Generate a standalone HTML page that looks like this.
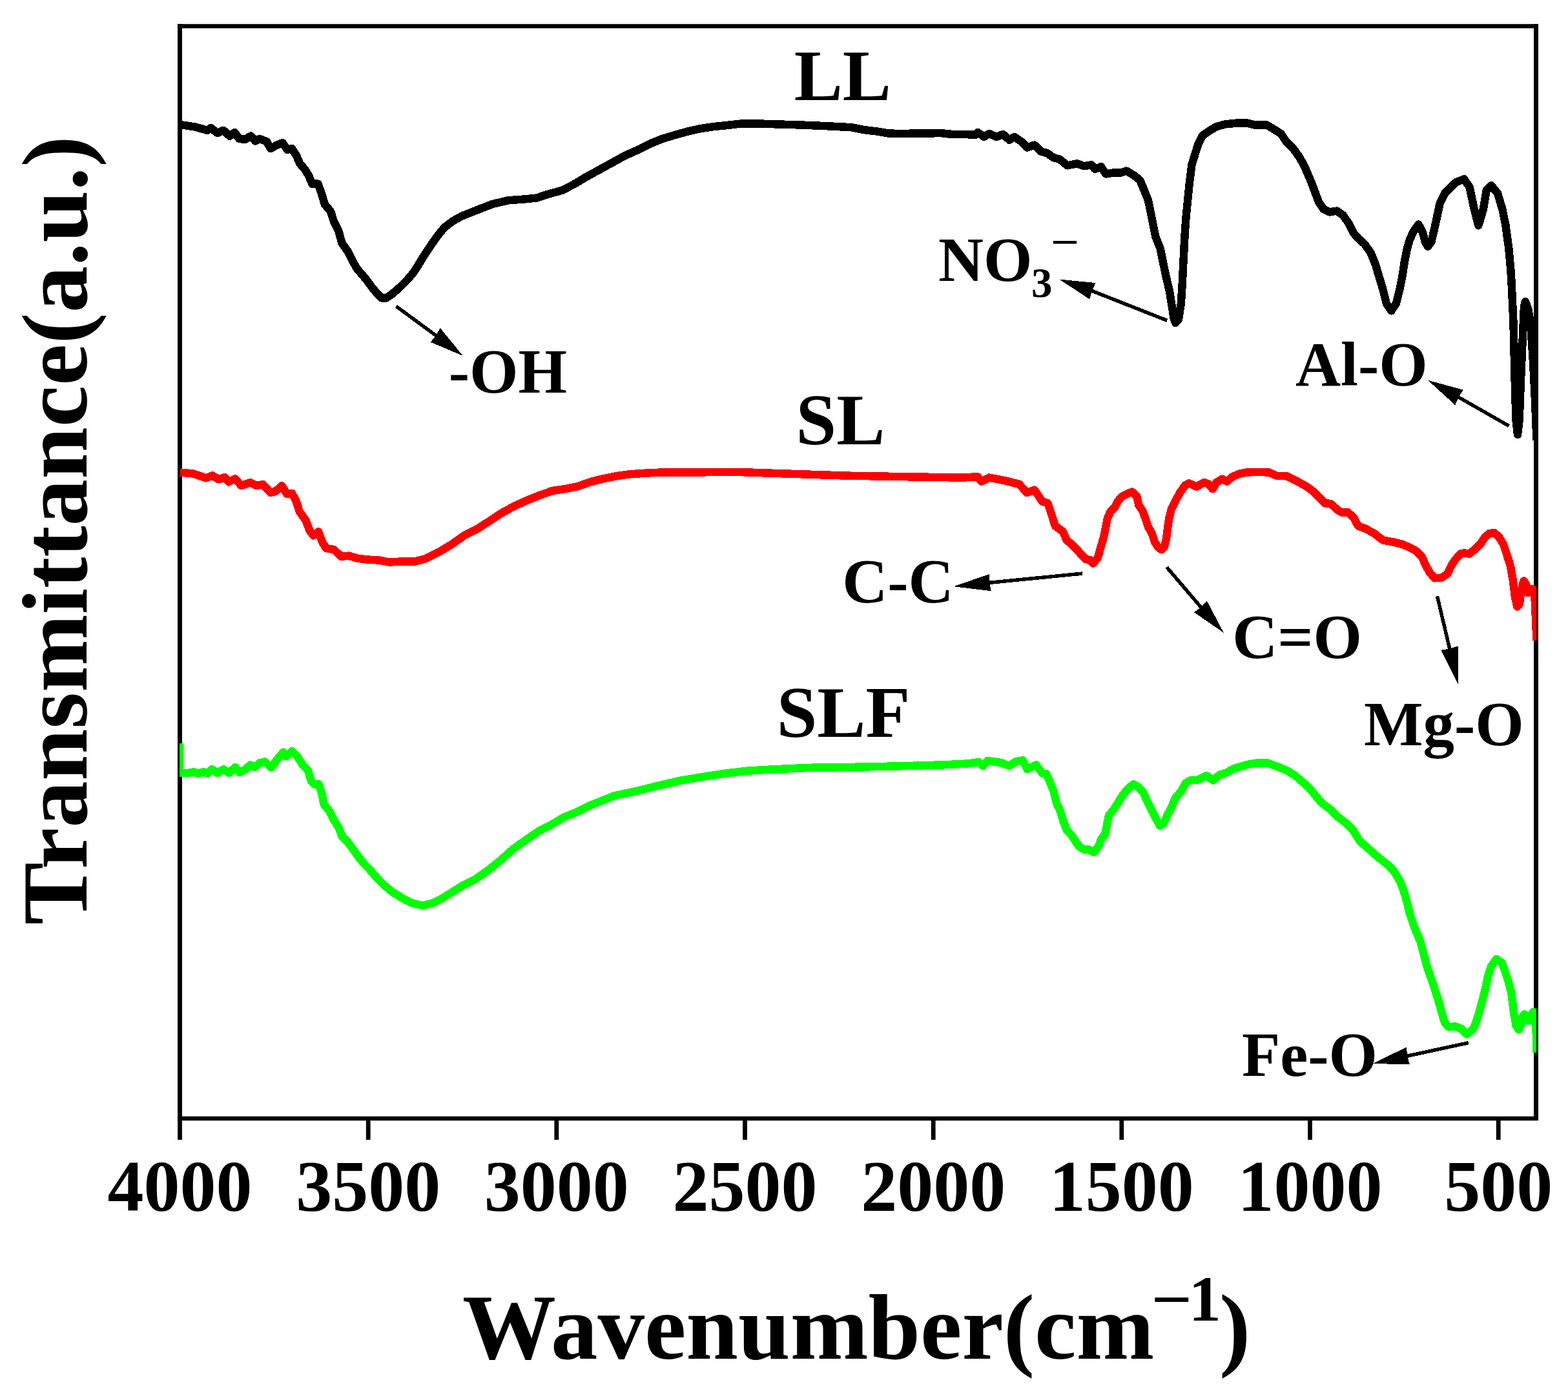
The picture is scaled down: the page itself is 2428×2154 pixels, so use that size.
<!DOCTYPE html>
<html><head><meta charset="utf-8"><title>FTIR spectra</title>
<style>html,body{margin:0;padding:0;background:#fff;}svg{display:block;}</style>
</head><body>
<svg width="2428" height="2154" viewBox="0 0 2428 2154"><rect x="0" y="0" width="2428" height="2154" fill="#fff"/>
<path d="M275,40.5H2382M275,1732H2382" stroke="#000" stroke-width="6.5" fill="none"/>
<path d="M278.5,37V1735M2378.5,37V1735" stroke="#000" stroke-width="7" fill="none"/>
<defs><clipPath id="pc"><rect x="278" y="40" width="2101" height="1692"/></clipPath></defs>
<g clip-path="url(#pc)" shape-rendering="crispEdges">
<polyline points="279.0,193.0 301.8,196.5 321.2,201.8 326.5,198.2 337.0,206.2 345.9,201.8 355.6,210.6 363.5,205.3 370.6,215.0 379.4,215.9 388.2,210.6 395.3,218.5 402.3,215.0 413.0,219.4 419.0,230.0 428.8,224.7 437.6,221.2 444.7,231.8 451.8,230.0 458.8,240.6 464.1,252.9 473.0,263.5 478.2,272.3 483.5,284.7 492.3,284.7 497.6,298.8 502.9,316.5 511.8,327.0 517.0,343.0 524.1,357.0 529.4,376.5 538.2,388.8 545.3,403.0 552.3,415.3 561.2,425.9 568.8,435.0 576.1,445.2 583.5,454.0 590.8,461.4 598.2,461.4 607.0,455.5 618.7,445.2 630.5,433.5 639.3,423.2 648.1,410.0 656.9,395.3 665.7,382.1 676.0,367.4 687.7,352.7 700.9,342.5 714.1,335.1 736.1,326.3 762.6,316.0 787.5,310.2 809.5,308.7 831.5,306.5 846.2,301.4 869.6,295.0 889.1,285.2 908.7,273.5 928.3,262.7 947.8,252.0 967.4,241.2 987.0,232.4 1006.6,222.6 1026.1,214.8 1045.7,208.9 1065.3,203.4 1084.8,199.1 1104.4,196.2 1124.0,194.2 1149.4,191.3 1175.0,191.5 1200.0,192.3 1240.0,193.5 1280.0,195.2 1318.3,197.2 1337.8,201.1 1357.4,203.4 1377.0,206.6 1396.6,207.0 1416.1,206.6 1435.7,206.6 1455.3,206.0 1474.8,208.0 1494.4,208.0 1510.0,208.9 1514.0,205.0 1523.8,211.9 1531.6,207.0 1543.3,211.9 1553.1,208.0 1562.9,216.8 1570.7,211.9 1582.5,219.7 1590.3,228.5 1602.0,224.6 1611.8,234.4 1621.6,237.3 1631.4,244.1 1641.3,246.9 1652.5,256.3 1667.5,253.4 1678.8,257.2 1690.0,255.3 1695.6,261.9 1705.0,258.1 1712.5,269.4 1723.8,267.5 1735.0,267.5 1744.4,264.7 1755.6,271.3 1765.0,278.8 1770.6,291.9 1778.1,310.6 1781.9,329.4 1785.6,348.1 1789.4,366.9 1796.9,385.6 1800.6,404.4 1805.3,426.9 1811.0,451.3 1814.7,473.8 1817.5,492.5 1820.3,500.0 1825.0,494.4 1828.8,470.0 1830.6,441.9 1832.5,404.4 1834.4,366.9 1836.3,338.8 1839.1,310.6 1841.9,282.5 1845.6,254.4 1850.3,239.4 1855.0,224.4 1862.5,209.4 1873.8,201.9 1883.1,196.3 1896.3,192.5 1915.0,190.6 1931.3,190.6 1942.5,193.4 1961.3,193.4 1972.5,200.0 1983.8,207.5 1991.3,218.8 2002.5,230.0 2011.9,243.1 2019.4,256.3 2025.0,269.4 2030.6,282.5 2036.3,297.5 2041.9,312.5 2049.4,323.8 2058.8,328.4 2070.0,326.6 2079.4,333.1 2088.8,346.3 2096.3,361.3 2103.8,369.7 2113.1,378.1 2122.5,391.3 2130.0,410.0 2135.6,428.8 2141.3,447.5 2146.9,470.0 2154.4,481.3 2161.9,470.0 2167.5,447.5 2171.3,428.8 2175.0,404.4 2178.8,385.6 2182.5,372.5 2188.1,359.4 2196.5,347.5 2203.0,360.0 2207.0,375.0 2211.0,381.7 2216.5,374.0 2222.3,349.3 2229.7,314.5 2237.2,299.6 2247.1,289.7 2254.5,282.3 2267.0,277.3 2275.6,289.7 2281.8,319.5 2289.3,349.3 2296.7,324.5 2301.7,294.7 2309.1,287.2 2319.1,299.6 2326.5,324.5 2331.5,349.3 2336.5,386.5 2339.5,420.0 2340.7,440.0 2343.5,500.0 2346.0,600.0 2347.5,650.0 2350.0,673.0 2352.7,650.0 2354.5,600.0 2357.5,530.0 2360.0,475.0 2362.0,467.0 2366.2,478.4 2370.0,500.0 2374.0,560.0 2377.0,620.0 2379.5,682.0" fill="none" stroke="#000" stroke-width="12.5" stroke-linejoin="round" stroke-linecap="butt"/>
<polyline points="279.0,731.5 299.4,733.5 318.9,740.3 328.7,736.4 338.5,742.3 348.3,739.0 354.1,746.2 363.9,741.3 373.7,752.1 387.4,747.2 397.2,752.1 407.0,750.1 418.7,762.8 426.6,760.9 436.3,752.1 444.2,764.8 452.0,763.8 458.8,776.5 463.7,792.2 473.5,805.9 479.4,821.5 485.3,829.4 493.1,823.5 499.0,839.2 504.8,848.9 516.6,850.9 528.3,861.7 540.1,860.7 553.8,864.6 569.4,866.6 587.0,867.5 602.7,870.5 622.3,869.5 641.8,869.5 657.5,865.6 679.6,854.8 699.1,843.1 718.7,829.4 738.3,819.6 757.8,806.9 777.4,794.1 797.0,783.4 816.6,774.6 836.1,766.8 855.7,759.9 875.3,757.0 894.8,753.1 914.4,746.2 934.0,741.3 953.5,737.4 973.1,734.5 992.7,733.1 1012.3,731.9 1031.8,731.5 1050.0,731.7 1138.1,730.8 1226.1,733.8 1314.2,736.7 1402.2,738.2 1490.3,739.6 1513.8,738.2 1519.7,745.5 1531.4,739.6 1554.9,744.0 1578.4,749.9 1590.1,763.1 1601.9,758.7 1613.6,776.3 1622.4,779.3 1634.1,814.5 1645.9,823.3 1651.7,836.5 1659.1,842.4 1667.9,851.2 1675.2,860.0 1681.1,865.9 1688.4,867.3 1692.8,872.5 1700.2,862.9 1704.6,846.8 1709.0,832.1 1711.9,817.4 1714.9,802.7 1719.3,792.5 1726.6,785.1 1731.0,776.3 1736.9,769.0 1745.7,764.6 1753.0,761.6 1760.4,769.0 1763.3,782.2 1769.2,791.0 1773.6,802.7 1778.0,816.0 1783.8,826.2 1788.2,839.4 1794.1,848.2 1798.5,851.2 1802.9,846.8 1805.9,835.0 1808.1,817.4 1810.3,802.7 1813.9,788.1 1820.5,774.9 1827.9,761.6 1835.2,751.4 1841.1,748.4 1852.8,753.6 1864.6,747.0 1871.9,749.9 1877.8,757.2 1883.6,747.0 1892.5,741.8 1899.8,745.5 1908.6,738.2 1918.9,733.8 1929.2,731.6 1947.6,730.8 1965.2,731.6 1977.0,736.7 1993.1,737.4 2004.9,743.3 2021.0,752.1 2032.7,760.2 2043.0,770.5 2051.8,779.3 2060.6,780.0 2070.9,789.5 2078.2,793.9 2087.1,793.2 2095.9,801.3 2103.2,814.5 2114.9,818.9 2128.1,826.2 2141.4,836.5 2157.5,839.4 2172.2,843.1 2186.9,849.7 2192.1,852.8 2201.8,862.5 2207.9,875.9 2214.0,886.8 2221.3,895.3 2232.2,894.7 2240.7,889.2 2246.7,877.1 2252.8,867.4 2261.3,857.7 2267.4,856.4 2274.6,857.7 2284.4,850.4 2292.8,841.9 2298.9,832.2 2306.2,826.1 2313.5,824.9 2320.8,831.0 2328.0,843.1 2332.9,857.7 2339.0,877.1 2343.0,900.0 2346.0,925.0 2349.3,939.5 2353.0,935.0 2355.5,915.0 2359.4,899.5 2363.0,905.0 2366.3,918.0 2370.0,914.0 2373.3,912.0 2376.5,925.0 2379.5,992.0" fill="none" stroke="#ff0000" stroke-width="12.5" stroke-linejoin="round" stroke-linecap="butt"/>
<polyline points="277.5,1151.0 277.5,1197.0 291.5,1197.0 299.8,1195.4 306.4,1197.8 314.7,1195.4 321.3,1197.8 327.9,1191.2 336.2,1197.0 346.1,1191.2 354.4,1197.0 364.3,1187.9 370.9,1196.2 379.2,1192.1 387.5,1184.6 394.1,1187.9 402.4,1181.3 410.7,1179.6 419.8,1188.7 428.9,1176.3 438.8,1164.7 443.7,1171.4 452.0,1163.1 460.3,1171.4 468.6,1184.6 476.8,1192.9 481.8,1209.4 486.8,1214.4 493.4,1214.4 498.4,1229.3 501.7,1245.8 509.9,1255.8 516.6,1269.0 524.8,1282.2 529.8,1295.5 538.1,1303.7 548.0,1317.0 556.3,1328.6 564.5,1338.5 571.7,1345.7 583.5,1359.4 595.2,1371.1 607.0,1380.9 622.6,1390.7 638.3,1398.5 653.9,1402.4 669.6,1398.5 685.2,1390.7 700.9,1380.9 716.6,1371.1 736.1,1361.4 755.7,1347.7 775.3,1332.0 794.8,1314.4 814.4,1300.7 834.0,1287.0 853.5,1277.2 873.1,1265.5 892.7,1257.6 912.3,1247.8 931.8,1240.0 951.4,1232.2 984.2,1225.3 1018.5,1216.8 1052.7,1208.9 1087.0,1203.1 1121.2,1197.9 1155.5,1193.8 1189.7,1191.8 1224.0,1190.1 1258.2,1188.7 1292.5,1188.4 1326.7,1187.7 1361.0,1187.0 1395.2,1186.3 1429.5,1185.3 1463.7,1184.2 1498.0,1182.5 1515.1,1180.1 1522.0,1186.0 1528.8,1178.1 1549.3,1180.8 1563.0,1186.0 1573.3,1179.1 1583.6,1177.4 1590.4,1191.1 1604.1,1184.2 1614.4,1197.9 1620.0,1198.2 1625.9,1211.4 1631.7,1226.0 1636.1,1243.7 1642.0,1256.9 1646.4,1271.6 1652.3,1286.2 1658.2,1292.1 1664.0,1300.9 1671.4,1311.2 1678.7,1315.6 1686.0,1315.6 1693.4,1320.0 1700.7,1311.2 1705.1,1299.4 1711.0,1292.1 1713.9,1277.4 1716.9,1262.7 1724.2,1253.9 1731.6,1242.2 1738.9,1230.5 1747.7,1220.2 1755.0,1214.3 1762.4,1218.7 1769.7,1226.0 1775.6,1239.3 1781.5,1251.0 1788.8,1265.7 1796.1,1278.9 1802.0,1274.5 1807.9,1261.3 1813.7,1251.0 1819.6,1236.3 1828.4,1226.0 1835.8,1212.8 1843.1,1208.4 1854.8,1207.7 1868.1,1201.1 1878.3,1208.4 1888.6,1199.6 1898.9,1196.7 1909.2,1190.8 1919.9,1187.3 1931.5,1184.0 1946.4,1181.5 1963.0,1181.5 1976.2,1186.5 1991.1,1192.3 2006.0,1201.4 2019.2,1213.0 2032.4,1226.2 2045.7,1242.7 2058.9,1252.7 2070.5,1264.2 2083.7,1274.2 2095.3,1285.8 2105.3,1302.3 2118.5,1313.9 2133.4,1327.1 2148.3,1338.7 2158.2,1348.6 2168.1,1365.2 2173.1,1378.4 2178.1,1395.0 2183.0,1414.8 2189.6,1434.7 2199.4,1458.2 2204.3,1476.4 2209.1,1494.6 2215.2,1512.8 2221.3,1531.0 2227.3,1549.2 2232.2,1567.4 2237.0,1583.2 2243.1,1590.5 2252.8,1589.3 2262.5,1592.9 2271.0,1601.4 2280.7,1594.1 2285.6,1583.2 2290.4,1567.4 2295.3,1549.2 2300.1,1531.0 2303.8,1512.8 2308.6,1497.0 2317.1,1484.9 2325.6,1491.0 2330.5,1504.3 2335.3,1518.9 2340.2,1537.1 2344.4,1570.0 2347.5,1588.0 2351.4,1594.5 2355.0,1588.0 2357.0,1575.0 2360.3,1570.5 2363.5,1576.0 2366.9,1581.0 2370.0,1573.0 2374.0,1567.0 2378.0,1569.0 2379.5,1629.5" fill="none" stroke="#00ff00" stroke-width="12.5" stroke-linejoin="round" stroke-linecap="butt"/>
</g>
<line x1="278.5" y1="1732" x2="278.5" y2="1765" stroke="#000" stroke-width="6.8"/>
<text x="278.5" y="1874.5" font-family="'Liberation Serif', serif" font-weight="bold" font-size="112" text-anchor="middle">4000</text>
<line x1="570.2" y1="1732" x2="570.2" y2="1765" stroke="#000" stroke-width="6.8"/>
<text x="570.2" y="1874.5" font-family="'Liberation Serif', serif" font-weight="bold" font-size="112" text-anchor="middle">3500</text>
<line x1="861.8" y1="1732" x2="861.8" y2="1765" stroke="#000" stroke-width="6.8"/>
<text x="861.8" y="1874.5" font-family="'Liberation Serif', serif" font-weight="bold" font-size="112" text-anchor="middle">3000</text>
<line x1="1153.5" y1="1732" x2="1153.5" y2="1765" stroke="#000" stroke-width="6.8"/>
<text x="1153.5" y="1874.5" font-family="'Liberation Serif', serif" font-weight="bold" font-size="112" text-anchor="middle">2500</text>
<line x1="1445.2" y1="1732" x2="1445.2" y2="1765" stroke="#000" stroke-width="6.8"/>
<text x="1445.2" y="1874.5" font-family="'Liberation Serif', serif" font-weight="bold" font-size="112" text-anchor="middle">2000</text>
<line x1="1736.8" y1="1732" x2="1736.8" y2="1765" stroke="#000" stroke-width="6.8"/>
<text x="1736.8" y="1874.5" font-family="'Liberation Serif', serif" font-weight="bold" font-size="112" text-anchor="middle">1500</text>
<line x1="2028.5" y1="1732" x2="2028.5" y2="1765" stroke="#000" stroke-width="6.8"/>
<text x="2028.5" y="1874.5" font-family="'Liberation Serif', serif" font-weight="bold" font-size="112" text-anchor="middle">1000</text>
<line x1="2320.2" y1="1732" x2="2320.2" y2="1765" stroke="#000" stroke-width="6.8"/>
<text x="2320.2" y="1874.5" font-family="'Liberation Serif', serif" font-weight="bold" font-size="112" text-anchor="middle">500</text>
<g shape-rendering="crispEdges">
<line x1="613.5" y1="474.3" x2="675.0" y2="519.5" stroke="#000" stroke-width="5.5"/><polygon points="716.8,551.0 681.6,507.9 675.0,519.5 666.7,529.8" fill="#000"/>
<line x1="1807.2" y1="496.3" x2="1690.9" y2="450.4" stroke="#000" stroke-width="5.5"/><polygon points="1640.3,432.5 1696.6,438.1 1690.9,450.4 1687.2,463.4" fill="#000"/>
<line x1="2336.5" y1="659.6" x2="2258.5" y2="615.0" stroke="#000" stroke-width="5.5"/><polygon points="2211.1,588.8 2265.7,603.7 2258.5,615.0 2253.3,627.3" fill="#000"/>
<line x1="1676.2" y1="888.1" x2="1532.1" y2="902.3" stroke="#000" stroke-width="5.5"/><polygon points="1476.6,908.2 1531.7,889.1 1532.1,902.3 1534.7,915.2" fill="#000"/>
<line x1="1806.6" y1="878.3" x2="1859.7" y2="940.3" stroke="#000" stroke-width="5.5"/><polygon points="1894.8,979.8 1869.0,930.7 1859.7,940.3 1849.0,948.2" fill="#000"/>
<line x1="2225.5" y1="923.2" x2="2244.8" y2="1004.7" stroke="#000" stroke-width="5.5"/><polygon points="2257.5,1058.8 2257.5,1000.5 2244.8,1004.7 2231.5,1006.7" fill="#000"/>
<line x1="2273.8" y1="1614.8" x2="2179.3" y2="1635.2" stroke="#000" stroke-width="5.5"/><polygon points="2126.0,1646.9 2177.9,1621.5 2179.3,1635.2 2182.8,1648.5" fill="#000"/>
</g>
<text x="1229.8" y="154.9" font-family="'Liberation Serif', serif" font-weight="bold" font-size="112.5" >LL</text>
<text x="1232.6" y="687.8" font-family="'Liberation Serif', serif" font-weight="bold" font-size="112.5" >SL</text>
<text x="1202.8" y="1140.6" font-family="'Liberation Serif', serif" font-weight="bold" font-size="112.5" >SLF</text>
<text x="694.8" y="607.8" font-family="'Liberation Serif', serif" font-weight="bold" font-size="97" >-OH</text>
<text x="1453.0" y="435.1" font-family="'Liberation Serif', serif" font-weight="bold" font-size="97" >NO</text>
<text x="1597.0" y="460.0" font-family="'Liberation Serif', serif" font-weight="bold" font-size="65" >3</text>
<text transform="translate(1626.4,397.0) scale(1.2,1)" x="0" y="0" font-family="'Liberation Serif', serif" font-weight="bold" font-size="65">&#8722;</text>
<text x="2006.0" y="596.7" font-family="'Liberation Serif', serif" font-weight="bold" font-size="97" >Al-O</text>
<text x="1304.2" y="933.0" font-family="'Liberation Serif', serif" font-weight="bold" font-size="97" >C-C</text>
<text x="1908.2" y="1018.7" font-family="'Liberation Serif', serif" font-weight="bold" font-size="97" >C=O</text>
<text x="2112.0" y="1153.7" font-family="'Liberation Serif', serif" font-weight="bold" font-size="97" >Mg-O</text>
<text x="1923.0" y="1665.5" font-family="'Liberation Serif', serif" font-weight="bold" font-size="97" >Fe-O</text>
<text x="716.0" y="2104.0" font-family="'Liberation Serif', serif" font-weight="bold" font-size="145" >Wavenumber(cm</text>
<text transform="translate(1782.5,2044.9) scale(1.15,1)" x="0" y="0" font-family="'Liberation Serif', serif" font-weight="bold" font-size="97">&#8722;</text>
<text x="1840.7" y="2045.0" font-family="'Liberation Serif', serif" font-weight="bold" font-size="100" >1</text>
<text x="1888.0" y="2104.0" font-family="'Liberation Serif', serif" font-weight="bold" font-size="145" >)</text>
<text transform="translate(134,1432) rotate(-90)" x="0" y="0" font-family="'Liberation Serif', serif" font-weight="bold" font-size="145">Transmittance(a.u.)</text></svg>
</body></html>
